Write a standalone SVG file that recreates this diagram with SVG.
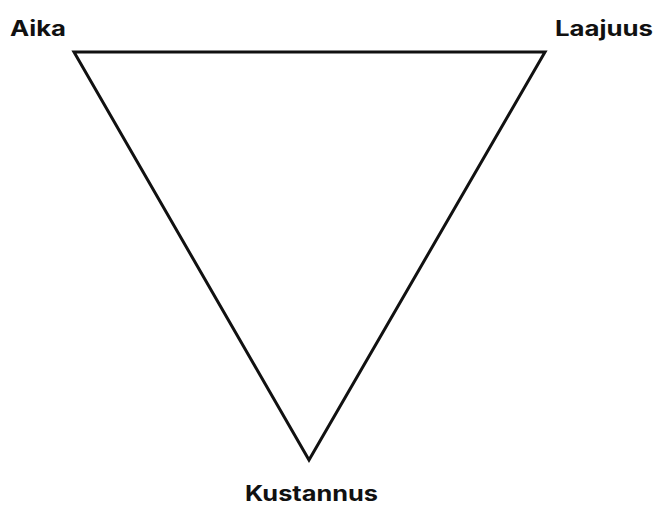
<svg xmlns="http://www.w3.org/2000/svg" width="657" height="505" viewBox="0 0 657 505">
<style>
.lbl{font-family:"Inter","Open Sans","Liberation Sans",sans-serif;font-weight:700;font-size:21px;fill:#111}
.edge{fill:none;stroke:#111;stroke-width:3;stroke-linejoin:miter}
</style>
<rect width="657" height="505" fill="#fff"/>
<g id="connectors">
<polygon class="edge" points="74,52 545,52 309,460"/>
</g>
<g id="aika"><text class="lbl" x="10" y="36" textLength="56" lengthAdjust="spacingAndGlyphs">Aika</text></g>
<g id="laajuus"><text class="lbl" x="555" y="36" textLength="98" lengthAdjust="spacingAndGlyphs">Laajuus</text></g>
<g id="kustannus"><text class="lbl" x="245" y="501" textLength="133" lengthAdjust="spacingAndGlyphs">Kustannus</text></g>
</svg>
